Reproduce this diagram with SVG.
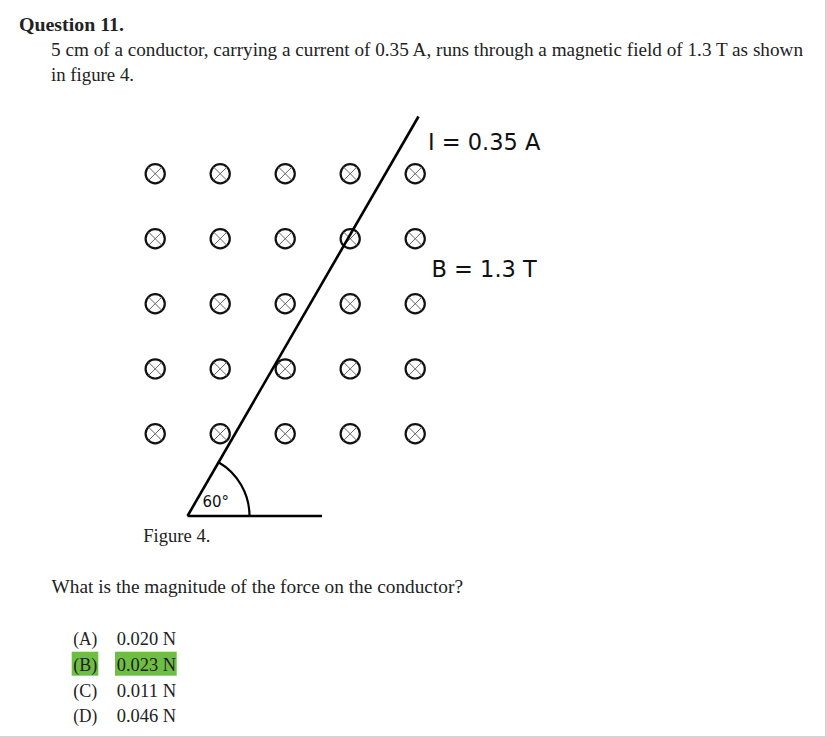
<svg xmlns="http://www.w3.org/2000/svg" xmlns:xlink="http://www.w3.org/1999/xlink" width="827" height="738" viewBox="0 0 827 738">
<style>
.serif{font-family:"Liberation Serif","DejaVu Serif",serif;fill:#222;font-size:19px;}
.sans{font-family:"DejaVu Sans","Liberation Sans",sans-serif;fill:#111;}
.ring{fill:#fff;stroke:#111;stroke-width:2.2;}
.cross{stroke:#666;stroke-width:1;}
.wire{stroke:#000;stroke-width:2.6;fill:none;stroke-linecap:butt;}
.hl{fill:#6ebe44;}
</style>
<defs>
<g id="into">
<circle class="ring" cx="0" cy="0" r="9.6"/>
<line class="cross" x1="-6.8" y1="-6.8" x2="6.8" y2="6.8"/>
<line class="cross" x1="-6.8" y1="6.8" x2="6.8" y2="-6.8"/>
</g>
</defs>
<rect width="827" height="738" fill="#fff"/>
<line x1="826" y1="0" x2="826" y2="738" stroke="#d4d4d4" stroke-width="2"/>
<line x1="0" y1="737" x2="827" y2="737" stroke="#d4d4d4" stroke-width="2"/>

<g id="question">
<text class="serif" x="19" y="31" font-weight="bold" textLength="105" lengthAdjust="spacingAndGlyphs">Question 11.</text>
<text class="serif" x="51" y="55.5" textLength="752" lengthAdjust="spacingAndGlyphs">5 cm of a conductor, carrying a current of 0.35 A, runs through a magnetic field of 1.3 T as shown</text>
<text class="serif" x="51" y="80.5" textLength="83" lengthAdjust="spacingAndGlyphs">in figure 4.</text>
</g>

<g id="field">
<use xlink:href="#into" x="155.2" y="173.7"/><use xlink:href="#into" x="220.2" y="173.7"/><use xlink:href="#into" x="285.2" y="173.7"/><use xlink:href="#into" x="350.2" y="173.7"/><use xlink:href="#into" x="415.2" y="173.7"/>
<use xlink:href="#into" x="155.2" y="238.7"/><use xlink:href="#into" x="220.2" y="238.7"/><use xlink:href="#into" x="285.2" y="238.7"/><use xlink:href="#into" x="350.2" y="238.7"/><use xlink:href="#into" x="415.2" y="238.7"/>
<use xlink:href="#into" x="155.2" y="303.7"/><use xlink:href="#into" x="220.2" y="303.7"/><use xlink:href="#into" x="285.2" y="303.7"/><use xlink:href="#into" x="350.2" y="303.7"/><use xlink:href="#into" x="415.2" y="303.7"/>
<use xlink:href="#into" x="155.2" y="368.9"/><use xlink:href="#into" x="220.2" y="368.9"/><use xlink:href="#into" x="285.2" y="368.9"/><use xlink:href="#into" x="350.2" y="368.9"/><use xlink:href="#into" x="415.2" y="368.9"/>
<use xlink:href="#into" x="155.2" y="433.8"/><use xlink:href="#into" x="220.2" y="433.8"/><use xlink:href="#into" x="285.2" y="433.8"/><use xlink:href="#into" x="350.2" y="433.8"/><use xlink:href="#into" x="415.2" y="433.8"/>
</g>

<g id="conductor">
<line class="wire" x1="187.5" y1="516" x2="418.5" y2="116.5"/>
<line class="wire" x1="187.5" y1="516" x2="322" y2="516"/>
<path d="M 218.5 462.3 A 62 62 0 0 1 249.5 516" fill="none" stroke="#000" stroke-width="2.2"/>
<text class="sans" x="202.5" y="507" font-size="15">60°</text>
</g>

<g id="labels">
<text class="sans" x="428" y="150" font-size="22.5">I = 0.35 A</text>
<text class="sans" x="431.5" y="277" font-size="22.5">B = 1.3 T</text>
</g>

<g id="caption">
<text class="serif" x="143.3" y="541.7" textLength="67" lengthAdjust="spacingAndGlyphs">Figure 4.</text>
</g>

<g id="prompt">
<text class="serif" x="51.5" y="592.7" textLength="411.5" lengthAdjust="spacingAndGlyphs">What is the magnitude of the force on the conductor?</text>
</g>

<g id="options">
<rect class="hl" x="71.7" y="651.7" width="26.6" height="24"/>
<rect class="hl" x="115" y="651.7" width="61.7" height="24"/>
<text class="serif" x="73.3" y="645" textLength="24" lengthAdjust="spacingAndGlyphs">(A)</text>
<text class="serif" x="116.7" y="645" textLength="59.5" lengthAdjust="spacingAndGlyphs">0.020 N</text>
<text class="serif" x="73.3" y="671" textLength="24" lengthAdjust="spacingAndGlyphs">(B)</text>
<text class="serif" x="116.7" y="671" textLength="59.5" lengthAdjust="spacingAndGlyphs">0.023 N</text>
<text class="serif" x="73.3" y="697" textLength="24" lengthAdjust="spacingAndGlyphs">(C)</text>
<text class="serif" x="116.7" y="697" textLength="59.5" lengthAdjust="spacingAndGlyphs">0.011 N</text>
<text class="serif" x="73.3" y="722" textLength="24" lengthAdjust="spacingAndGlyphs">(D)</text>
<text class="serif" x="116.7" y="722" textLength="59.5" lengthAdjust="spacingAndGlyphs">0.046 N</text>
</g>
</svg>
